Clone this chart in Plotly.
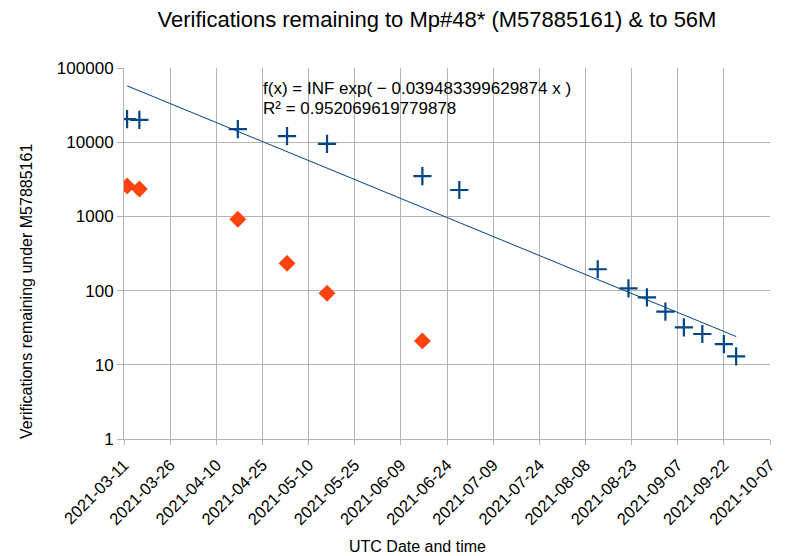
import numpy as np
import pandas as pd
import plotly.graph_objects as go

# Blue series: verifications remaining to Mp#48*
blue_dates = ["2021-03-12", "2021-03-16", "2021-04-17", "2021-05-03", "2021-05-16",
              "2021-06-16", "2021-06-28", "2021-08-12", "2021-08-22", "2021-08-28",
              "2021-09-03", "2021-09-09", "2021-09-15", "2021-09-22", "2021-09-26"]
blue_values = [20500, 20000, 15000, 12100, 9500, 3500, 2270, 194, 107, 81, 52, 32, 26, 19, 13]

# Orange series: verifications remaining to 56M
orange_dates = ["2021-03-12", "2021-03-16", "2021-04-17", "2021-05-03", "2021-05-16", "2021-06-16"]
orange_values = [2570, 2340, 914, 233, 92, 21]

y_tickvals = [1, 10, 100, 1000, 10000, 100000]
y_ticktext = ["1", "10", "100", "1000", "10000", "100000"]

title = "Verifications remaining to Mp#48* (M57885161) & to 56M"
fit_line1 = "f(x) = INF exp( − 0.039483399629874 x )"
fit_line2 = "R² = 0.952069619779878"
x_title = "UTC Date and time"
y_title = "Verifications remaining under M57885161"

# exponential trend fitted to blue series
bd = pd.to_datetime(blue_dates)
days = (bd - bd[0]).days.values.astype(float)
slope, intercept = np.polyfit(days, np.log(blue_values), 1)
trend_days = np.array([days[0], days[-1]])
trend_x = [bd[0] + pd.Timedelta(days=d) for d in trend_days]
trend_y = np.exp(intercept + slope * trend_days)

BLUE = "#004586"
ORANGE = "#ff420e"
GRID = "#b3b3b3"
FONT = "Liberation Sans"

W, H = 788, 556
L, R, T, B = 124, 18, 68, 117

fig = go.Figure()
fig.add_trace(go.Scatter(x=trend_x, y=trend_y, mode="lines",
                         line=dict(color=BLUE, width=1), showlegend=False, hoverinfo="skip"))
fig.add_trace(go.Scatter(x=blue_dates, y=blue_values, mode="markers",
                         marker=dict(symbol="cross-thin", size=13,
                                     line=dict(color=BLUE, width=2.2), color=BLUE),
                         showlegend=False))
fig.add_trace(go.Scatter(x=orange_dates, y=orange_values, mode="markers",
                         marker=dict(symbol="diamond", size=13, color=ORANGE,
                                     line=dict(width=0)),
                         showlegend=False))

def px_x(p):
    return (p - L) / (W - L - R)

def px_y(p):
    return 1 - (p - T) / (H - T - B)

fig.add_annotation(x=px_x(261), y=px_y(88), xref="paper", yref="paper",
                   xanchor="left", yanchor="middle", text=fit_line1, showarrow=False,
                   font=dict(family=FONT, size=17, color="#000000"))
fig.add_annotation(x=px_x(261), y=px_y(108), xref="paper", yref="paper",
                   xanchor="left", yanchor="middle", text=fit_line2, showarrow=False,
                   font=dict(family=FONT, size=17, color="#000000"))
# axis titles
fig.add_annotation(x=px_x(417), y=px_y(546), xref="paper", yref="paper",
                   xanchor="center", yanchor="middle", text=x_title, showarrow=False,
                   font=dict(family=FONT, size=16, color="#000000"))
fig.add_annotation(x=px_x(26), y=px_y(292), xref="paper", yref="paper",
                   xanchor="center", yanchor="middle", text=y_title, showarrow=False,
                   textangle=-90, font=dict(family=FONT, size=16, color="#000000"))

fig.update_layout(
    width=W, height=H,
    margin=dict(l=L, r=R, t=T, b=B, autoexpand=False),
    paper_bgcolor="white", plot_bgcolor="white",
    font=dict(family=FONT, color="#000000"),
    title=dict(text=title, xref="container", x=437 / W, xanchor="center",
               yref="container", y=1 - 19 / H, yanchor="middle",
               font=dict(size=22, family=FONT)),
)
fig.update_xaxes(
    type="date", range=["2021-03-11", "2021-10-07"], automargin=False,
    tick0="2021-03-11", dtick=15 * 86400000, tickformat="%Y-%m-%d", tickangle=-45,
    showgrid=True, gridcolor=GRID, gridwidth=1,
    showline=True, linecolor=GRID, linewidth=1,
    ticks="outside", ticklen=5, tickcolor=GRID,
    tickfont=dict(size=16.5), ticklabelstandoff=4,
    zeroline=False,
)
fig.update_yaxes(
    type="log", range=[0, 5], automargin=False,
    tickvals=y_tickvals, ticktext=y_ticktext,
    showgrid=True, gridcolor=GRID, gridwidth=1,
    showline=True, linecolor=GRID, linewidth=1,
    ticks="outside", ticklen=6, tickcolor=GRID,
    tickfont=dict(size=17),
    zeroline=False,
)

fig.write_html("out.html", config={"displayModeBar": False},
               post_script="document.body.style.margin='0px';document.body.style.overflow='hidden';")
